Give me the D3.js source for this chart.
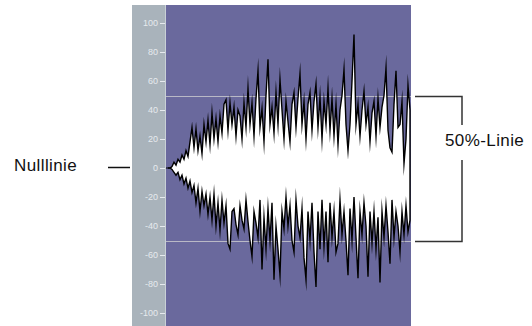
<!DOCTYPE html>
<html>
<head>
<meta charset="utf-8">
<script src="https://cdn.jsdelivr.net/npm/d3@7"></script>
<style>
body { margin: 0; background: #fff; }
svg { display: block; font-family: "Liberation Sans", Arial, sans-serif; }
</style>
</head>
<body>
<svg id="wave" width="532" height="326"></svg>
<script>
// ruler ticks (percent)
var tickValues = [100, 80, 60, 40, 20, 0, -20, -40, -60, -80, -100];
var halfLines = [50, -50];

// waveform envelope, one value every 2px (percent of full scale)
var upper = [0, 0, 1, 4, 2, 6, 4, 9, 6, 12, 8, 18, 28, 14, 27, 12, 22, 10, 30, 18,
  33, 16, 38, 20, 34, 18, 36, 24, 44, 47, 26, 45, 30, 42, 22, 40, 36, 20, 45, 28,
  55, 30, 45, 22, 48, 67, 28, 41, 18, 50, 75, 30, 42, 24, 52, 30, 61, 40, 20, 46,
  32, 18, 44, 52, 28, 48, 65, 30, 46, 20, 44, 52, 26, 46, 58, 28, 49, 20, 46, 30,
  55, 26, 48, 22, 44, 16, 40, 50, 68, 30, 12, 30, 60, 92, 30, 44, 22, 40, 53, 30,
  42, 18, 38, 46, 22, 48, 28, 42, 50, 69, 26, 14, 11, 44, 67, 28, 30, 46, 3, 20,
  57, 40];
var lower = [0, 0, -1, -3, -5, -3, -8, -5, -11, -7, -14, -9, -17, -12, -24, -14, -30, -16, -26, -18,
  -32, -20, -36, -18, -40, -24, -43, -22, -38, -26, -52, -56, -30, -28, -39, -46, -26, -36, -42, -22,
  -37, -50, -61, -30, -38, -48, -22, -70, -34, -56, -28, -50, -24, -77, -40, -56, -74, -30, -42, -20,
  -40, -26, -50, -58, -22, -40, -48, -28, -62, -77, -30, -50, -24, -58, -82, -30, -56, -22, -54, -30,
  -65, -24, -48, -30, -58, -52, -22, -46, -30, -50, -74, -28, -50, -20, -48, -76, -30, -46, -24, -40,
  -75, -30, -52, -30, -56, -34, -79, -30, -48, -26, -44, -66, -22, -48, -30, -40, -58, -30, -46, -26,
  -44, -36];

var svg = d3.select("#wave");

var panel = {left: 166, right: 411, top: 5, bottom: 326};

var y = d3.scaleLinear()
  .domain([-100, 100])
  .range([313, 23]);

var x = d3.scaleLinear()
  .domain([0, upper.length - 1])
  .range([168, 410]);

// ruler
svg.append("rect")
  .attr("x", 132).attr("y", panel.top)
  .attr("width", panel.left - 132).attr("height", panel.bottom - panel.top)
  .attr("fill", "#a9b3bb");
svg.append("line")
  .attr("x1", panel.left - 0.5).attr("x2", panel.left - 0.5)
  .attr("y1", panel.top).attr("y2", panel.bottom)
  .attr("stroke", "#c9d0d6");

// display area
svg.append("rect")
  .attr("x", panel.left).attr("y", panel.top)
  .attr("width", panel.right - panel.left).attr("height", panel.bottom - panel.top)
  .attr("fill", "#6a699d");

var axis = svg.append("g")
  .attr("transform", "translate(" + (panel.left - 1) + ",0)")
  .call(d3.axisLeft(y).tickValues(tickValues).tickSize(5).tickPadding(2)
    .tickFormat(function(d) { return String(d); }));
axis.select(".domain").remove();
axis.selectAll("line").attr("stroke", "#e6eaee");
axis.selectAll("text")
  .attr("fill", "#e6eaee")
  .style("font-size", "9px");

// 50% lines
svg.selectAll(".half")
  .data(halfLines)
  .enter().append("line")
  .attr("class", "half")
  .attr("x1", panel.left).attr("x2", panel.right)
  .attr("y1", function(d) { return Math.round(y(d)) + 0.5; })
  .attr("y2", function(d) { return Math.round(y(d)) + 0.5; })
  .attr("stroke", "#b9b9c6");

// waveform
svg.append("clipPath").attr("id", "clip")
  .append("rect")
  .attr("x", panel.left).attr("y", panel.top)
  .attr("width", panel.right - panel.left).attr("height", panel.bottom - panel.top);

var area = d3.area()
  .x(function(d, i) { return x(i); })
  .y0(function(d, i) { return y(lower[i]); })
  .y1(function(d) { return y(d); });

svg.append("path")
  .datum(upper)
  .attr("clip-path", "url(#clip)")
  .attr("d", area)
  .attr("fill", "#ffffff")
  .attr("stroke", "#000")
  .attr("stroke-width", 1.4)
  .attr("stroke-linejoin", "miter")
  .attr("stroke-miterlimit", 20);

// zero line stub at the start of the wave
svg.append("line")
  .attr("x1", panel.left).attr("x2", x(2))
  .attr("y1", y(0)).attr("y2", y(0))
  .attr("stroke", "#000");

// annotations
svg.append("text")
  .attr("x", 14).attr("y", 171)
  .style("font-size", "17px")
  .style("letter-spacing", "0.4px")
  .attr("fill", "#111")
  .text("Nulllinie");
svg.append("line")
  .attr("x1", 108).attr("x2", 130)
  .attr("y1", y(0) - 0.5).attr("y2", y(0) - 0.5)
  .attr("stroke", "#111").attr("stroke-width", 1.5);

var bx = 462, by1 = Math.round(y(50)) + 0.5, by2 = Math.round(y(-50)) + 0.5;
var bracket = svg.append("g")
  .attr("fill", "none")
  .attr("stroke", "#333")
  .attr("stroke-width", 1.5);
bracket.append("path")
  .attr("d", "M415," + by1 + "H" + bx + "V125");
bracket.append("path")
  .attr("d", "M415," + by2 + "H" + bx + "V160");

svg.append("text")
  .attr("x", 445).attr("y", 146)
  .style("font-size", "17px")
  .style("letter-spacing", "0.4px")
  .attr("fill", "#111")
  .text("50%-Linie");
</script>
</body>
</html>
